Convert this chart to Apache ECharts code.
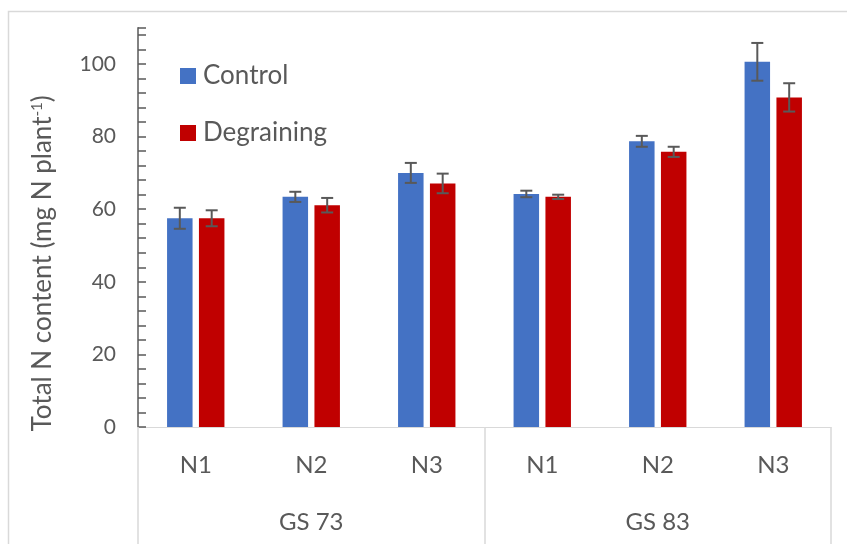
<!DOCTYPE html>
<html>
<head>
<meta charset="utf-8">
<script src="https://cdn.jsdelivr.net/npm/echarts@6/dist/echarts.min.js"></script>
<style>
  html, body { margin: 0; padding: 0; background: #ffffff; }
  #chart { width: 847px; height: 544px; }
</style>
</head>
<body>
<div id="chart"></div>
<script>
// Nitrogen levels within each growth stage
const nLevels = ['N1', 'N2', 'N3', 'N1', 'N2', 'N3'];
const growthStages = ['GS 73', 'GS 83'];

// Mean total N content (mg N per plant) and error-bar half widths
const controlValues = [57.5, 63.4, 70.0, 64.2, 78.7, 100.6];
const controlErrors = [2.9, 1.4, 2.75, 0.9, 1.5, 5.2];
const degrainingValues = [57.5, 61.1, 67.1, 63.4, 75.8, 90.8];
const degrainingErrors = [2.2, 2.0, 2.7, 0.6, 1.4, 3.9];

const yTickLabels = [0, 20, 40, 60, 80, 100];

const BAR_WIDTH = 25.5;
const BAR_GAP = 0.25;
const textColor = '#595959';
const font = 'Lato, "Open Sans", sans-serif';

// Horizontal offset of each bar centre from its category centre
const halfStep = (BAR_WIDTH + BAR_WIDTH * BAR_GAP) / 2;

function errorSeries(name, values, errors, dx) {
  return {
    type: 'custom',
    name: name + ' error',
    z: 5,
    silent: true,
    data: values.map((v, i) => [i, v, errors[i]]),
    renderItem: function (params, api) {
      const i = api.value(0);
      const v = api.value(1);
      const e = api.value(2);
      const hi = api.coord([i, v + e]);
      const lo = api.coord([i, v - e]);
      const x = hi[0] + dx;
      const cap = 6;
      const style = { stroke: '#595959', lineWidth: 2 };
      return {
        type: 'group',
        children: [
          { type: 'line', shape: { x1: x, y1: hi[1], x2: x, y2: lo[1] }, style: style },
          { type: 'line', shape: { x1: x - cap, y1: hi[1], x2: x + cap, y2: hi[1] }, style: style },
          { type: 'line', shape: { x1: x - cap, y1: lo[1], x2: x + cap, y2: lo[1] }, style: style }
        ]
      };
    }
  };
}

const chart = echarts.init(document.getElementById('chart'), null, { renderer: 'canvas' });

chart.setOption({
  backgroundColor: '#ffffff',
  animation: false,
  textStyle: { fontFamily: font },
  graphic: [
    {
      type: 'rect',
      shape: { x: 8.5, y: 11.5, width: 900, height: 600 },
      style: { fill: 'none', stroke: '#d9d9d9', lineWidth: 1.5 },
      silent: true
    }
  ],
  grid: { left: 138, right: 16, top: 27.7, bottom: 117, containLabel: false },
  legend: {
    left: 175,
    top: 56,
    orient: 'vertical',
    icon: 'rect',
    itemWidth: 16,
    itemHeight: 16,
    itemGap: 27,
    data: ['Control', 'Degraining'],
    textStyle: { fontSize: 26, lineHeight: 30, color: textColor, fontFamily: font, padding: [0, 0, 0, 2] }
  },
  xAxis: [
    {
      type: 'category',
      data: nLevels,
      position: 'bottom',
      axisLine: { show: true, lineStyle: { color: '#d9d9d9', width: 1 } },
      axisTick: { show: false },
      axisLabel: { margin: 26, fontSize: 24, color: textColor, fontFamily: font }
    },
    {
      type: 'category',
      data: growthStages,
      position: 'bottom',
      axisLine: { show: false },
      axisTick: { show: true, interval: 0, length: 120, lineStyle: { color: '#d9d9d9', width: 1.5 } },
      axisLabel: { margin: 83, fontSize: 24, color: textColor, fontFamily: font }
    }
  ],
  yAxis: {
    type: 'value',
    min: 0,
    max: 110,
    interval: 4,
    name: '{t|Total N content (mg N plant}{s|-1}{t|)}',
    nameLocation: 'middle',
    nameRotate: 90,
    nameGap: 82,
    nameTextStyle: {
      padding: [0, 72, 0, 0],
      rich: {
        t: { fontSize: 26, color: textColor, fontFamily: font },
        s: { fontSize: 15, color: textColor, fontFamily: font, verticalAlign: 'top', padding: [0, 0, 11, 0] }
      }
    },
    axisLine: { show: true, lineStyle: { color: '#595959', width: 1.5 } },
    axisTick: { show: true, inside: true, length: 8, lineStyle: { color: '#595959', width: 1.5 } },
    splitLine: { show: false },
    axisLabel: {
      margin: 22,
      fontSize: 21,
      color: textColor,
      fontFamily: font,
      formatter: function (v) {
        return yTickLabels.indexOf(v) >= 0 ? String(v) : '';
      }
    }
  },
  series: [
    {
      name: 'Control',
      type: 'bar',
      xAxisIndex: 0,
      barWidth: BAR_WIDTH,
      barGap: (BAR_GAP * 100) + '%',
      itemStyle: { color: '#4472C4' },
      data: controlValues
    },
    {
      name: 'Degraining',
      type: 'bar',
      xAxisIndex: 0,
      barWidth: BAR_WIDTH,
      barGap: (BAR_GAP * 100) + '%',
      itemStyle: { color: '#C00000' },
      data: degrainingValues
    },
    errorSeries('Control', controlValues, controlErrors, -halfStep),
    errorSeries('Degraining', degrainingValues, degrainingErrors, halfStep)
  ]
});
</script>
</body>
</html>
